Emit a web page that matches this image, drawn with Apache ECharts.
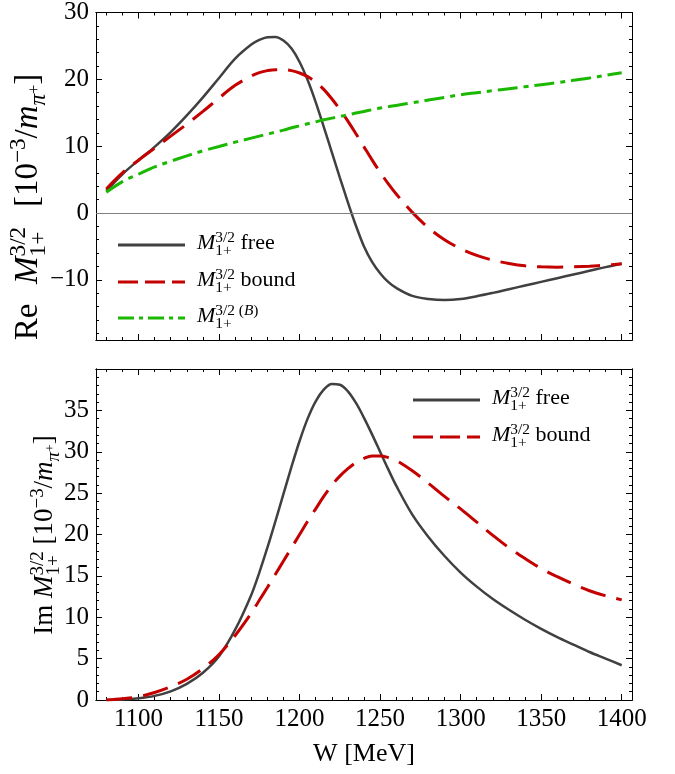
<!DOCTYPE html>
<html lang="en" style="height: 100%">
<head>
    <meta charset="utf-8">
</head>
<body style="height: 100%; margin: 0; overflow: hidden; background: #fff">
<div id="container" style="height: 774px; width: 675px"></div>

<script type="text/javascript" src="https://cdn.jsdelivr.net/npm/echarts@6/dist/echarts.min.js"></script>

<script type="text/javascript">
    // W [MeV] grid the curves were read on
    var W = [1080, 1090, 1100, 1110, 1120, 1130, 1140, 1150, 1160, 1170, 1175, 1180, 1185, 1190, 1195,
             1200, 1205, 1210, 1215, 1220, 1225, 1230, 1235, 1240, 1245, 1250, 1255, 1260, 1270, 1280,
             1290, 1300, 1310, 1320, 1330, 1340, 1350, 1360, 1370, 1380, 1390, 1400];

    // Re M1+ (3/2)
    var reFree = [3.3, 5.8, 7.9, 9.9, 12.1, 14.6, 17.3, 20.2, 23.1, 25.2, 25.9, 26.3, 26.35, 25.8, 24.6,
                  22.6, 19.9, 16.6, 12.9, 9.1, 5.3, 1.6, -1.9, -5.0, -7.3, -9.0, -10.3, -11.2, -12.4, -12.85,
                  -13.0, -12.85, -12.45, -11.95, -11.4, -10.85, -10.3, -9.75, -9.2, -8.65, -8.1, -7.6];
    var reBound = [3.6, 6.0, 7.9, 9.7, 11.5, 13.3, 15.2, 17.2, 19.1, 20.5, 21.0, 21.3, 21.45, 21.45, 21.3,
                   20.95, 20.4, 19.6, 18.5, 17.1, 15.5, 13.75, 11.85, 9.9, 7.95, 6.1, 4.4, 2.85, 0.1, -2.2,
                   -4.0, -5.35, -6.35, -7.05, -7.55, -7.9, -8.05, -8.1, -8.05, -7.95, -7.8, -7.6];
    var reBorn = [3.1, 4.7, 5.8, 6.9, 7.75, 8.55, 9.3, 9.95, 10.6, 11.2, 11.5, 11.8, 12.1, 12.4, 12.75,
                  13.05, 13.35, 13.65, 13.95, 14.2, 14.45, 14.7, 14.95, 15.2, 15.45, 15.7, 15.9, 16.1, 16.5, 16.9,
                  17.3, 17.7, 18.0, 18.3, 18.6, 18.9, 19.2, 19.5, 19.85, 20.2, 20.6, 21.0];

    // Im M1+ (3/2)
    var imFree = [0, 0.05, 0.2, 0.5, 1.05, 1.95, 3.3, 5.3, 8.5, 12.7, 15.4, 18.4, 21.6, 24.9, 28.2,
                  31.3, 34.0, 36.1, 37.5, 38.2, 38.1, 37.3, 35.9, 34.1, 32.1, 30.0, 27.9, 25.9, 22.4, 19.7,
                  17.4, 15.4, 13.7, 12.2, 10.9, 9.7, 8.6, 7.6, 6.7, 5.8, 5.0, 4.2];
    var imBound = [0, 0.15, 0.4, 0.9, 1.6, 2.5, 3.8, 5.5, 7.8, 10.5, 12.05, 13.6, 15.2, 16.8, 18.4,
                   20.0, 21.6, 23.1, 24.6, 25.95, 27.05, 27.95, 28.7, 29.2, 29.5, 29.5, 29.3, 28.95, 27.7, 26.2,
                   24.6, 23.1, 21.5, 19.9, 18.4, 17.1, 15.9, 14.9, 14.0, 13.2, 12.6, 12.1];

    // ticks
    var xMajor = [1100, 1150, 1200, 1250, 1300, 1350, 1400];
    var xMinor = [1080, 1090, 1110, 1120, 1130, 1140, 1160, 1170, 1180, 1190, 1210, 1220, 1230, 1240,
                  1260, 1270, 1280, 1290, 1310, 1320, 1330, 1340, 1360, 1370, 1380, 1390];
    var reMajor = [-10, 0, 10, 20, 30];
    var reMinor = [-18, -16, -14, -12, -8, -6, -4, -2, 2, 4, 6, 8, 12, 14, 16, 18, 22, 24, 26, 28];
    var imMajor = [0, 5, 10, 15, 20, 25, 30, 35];
    var imMinor = [1, 2, 3, 4, 6, 7, 8, 9, 11, 12, 13, 14, 16, 17, 18, 19, 21, 22, 23, 24,
                   26, 27, 28, 29, 31, 32, 33, 34, 36, 37, 38, 39];

    var FONT = '"Liberation Serif", "Times New Roman", serif';
    var C_FREE = '#404040', C_BOUND = '#c40000', C_BORN = '#1ab800';
    var X_MIN = 1073.6, X_MAX = 1406.4;

    var dom = document.getElementById('container');
    var myChart = echarts.init(dom, null, { renderer: 'canvas' });

    function axis(grid, pos, min, max, ticks, len, labels) {
      return {
        type: 'value', gridIndex: grid, position: pos, min: min, max: max,
        axisLine: { show: true, onZero: false, lineStyle: { color: '#000', width: 1 } },
        axisTick: { show: true, inside: true, length: len, customValues: ticks,
                    lineStyle: { color: '#000', width: 1 } },
        axisLabel: labels ? {
          show: true, customValues: labels, fontFamily: FONT, fontSize: 25, color: '#000', margin: 7,
          formatter: function (v) { return String(v).replace('-', '\u2212'); }
        } : { show: false },
        splitLine: { show: false }
      };
    }

    function curve(name, vals, grid, color, width, dash) {
      return {
        type: 'line', name: name, xAxisIndex: grid * 4, yAxisIndex: grid * 4,
        data: W.map(function (w, i) { return [w, vals[i]]; }),
        symbol: 'none', smooth: 0.35, silent: true,
        lineStyle: { color: color, width: width, type: dash || 'solid', cap: 'butt' }
      };
    }

    // little TeX-ish text builder for the M^{3/2}_{1+} labels
    var mctx = document.createElement('canvas').getContext('2d');
    function textW(t, it, sz) {
      mctx.font = (it ? 'italic ' : '') + sz + 'px ' + FONT;
      return mctx.measureText(t).width;
    }
    function mathText(tokens, size) {
      var x = 0, kids = [];
      function put(t, it, sz, dy, at) {
        kids.push({
          type: 'text', x: at, y: dy - 0.3 * sz,
          style: { text: t, fontFamily: FONT, fontSize: sz, fontStyle: it ? 'italic' : 'normal',
                   fill: '#000', align: 'left', verticalAlign: 'middle' }
        });
        return textW(t, it, sz);
      }
      tokens.forEach(function (k) {
        if (k.gap) { x += k.gap * size; return; }
        if (k.sup || k.sub) {
          var ss = size * 0.7, w1 = 0, w2 = 0;
          (k.sup || []).forEach(function (p) { w1 += put(p.t, p.i, ss, -0.36 * size, x + w1); });
          (k.sub || []).forEach(function (p) { w2 += put(p.t, p.i, ss, 0.24 * size, x + w2); });
          x += Math.max(w1, w2);
        } else {
          var sz = size * (k.s || 1);
          x += put(k.t, k.i, sz, (k.dy || 0) * size, x);
        }
      });
      return { kids: kids, width: x };
    }
    function shift(kids, dx) {
      kids.forEach(function (c) { c.x += dx; });
      return kids;
    }

    var MS = { sup: [{ t: '3/2' }], sub: [{ t: '1+' }] };
    function yTitle(prefix, cx, cy, size, pad) {
      var m = mathText([{ t: prefix }, { gap: 0.25 + pad }, { t: 'M', i: 1 }, MS, { gap: 0.25 + pad },
                        { t: '[10' }, { sup: [{ t: '\u22123' }] },
                        { t: '/' }, { t: 'm', i: 1 }, { sub: [{ t: '\u03c0', i: 1 }] },
                        { t: '+', s: 0.5, dy: 0.05 }, { t: ']' }], size);
      return { type: 'group', x: cx, y: cy, rotation: Math.PI / 2, children: shift(m.kids, -m.width / 2) };
    }

    function legendRow(x0, x1, y, color, dash, tokens) {
      var m = mathText(tokens, 22);
      return [
        { type: 'line', shape: { x1: x0, y1: y, x2: x1, y2: y },
          style: { stroke: color, lineWidth: 3, lineDash: dash || null } },
        { type: 'group', x: x1 + 12, y: y + 5, children: m.kids }
      ];
    }

    var graphics = [].concat(
      yTitle('Re', 38, 207, 33, 0.35),
      yTitle('Im', 53, 535, 27, 0),
      legendRow(118, 185, 245, C_FREE, null, [{ t: 'M', i: 1 }, MS, { t: ' free' }]),
      legendRow(118, 185, 282, C_BOUND, [20, 7], [{ t: 'M', i: 1 }, MS, { t: ' bound' }]),
      legendRow(118, 185, 318, C_BORN, [16, 5, 4, 5],
                [{ t: 'M', i: 1 }, { sup: [{ t: '3/2 (' }, { t: 'B', i: 1 }, { t: ')' }], sub: [{ t: '1+' }] }]),
      legendRow(413, 480, 400, C_FREE, null, [{ t: 'M', i: 1 }, MS, { t: ' free' }]),
      legendRow(413, 480, 437, C_BOUND, [20, 7], [{ t: 'M', i: 1 }, MS, { t: ' bound' }]),
      [{ type: 'text', x: 364, y: 762 - 0.3 * 26,
         style: { text: 'W [MeV]', fontFamily: FONT, fontSize: 26, fill: '#000',
                  align: 'center', verticalAlign: 'middle' } }]
    );

    var zeroLine = {
      silent: true, symbol: 'none', label: { show: false },
      lineStyle: { color: '#808080', width: 1, type: 'solid' },
      data: [{ yAxis: 0 }]
    };

    var top0 = curve('free', reFree, 0, C_FREE, 2.5);
    top0.markLine = zeroLine;

    var option = {
      animation: false,
      backgroundColor: '#fff',
      grid: [
        { left: 96, right: 43, top: 10, height: 330 },
        { left: 96, right: 43, top: 369, height: 331 }
      ],
      xAxis: [
        axis(0, 'bottom', X_MIN, X_MAX, xMajor, 6, null),
        axis(0, 'bottom', X_MIN, X_MAX, xMinor, 3, null),
        axis(0, 'top', X_MIN, X_MAX, xMajor, 6, null),
        axis(0, 'top', X_MIN, X_MAX, xMinor, 3, null),
        axis(1, 'bottom', X_MIN, X_MAX, xMajor, 6, xMajor),
        axis(1, 'bottom', X_MIN, X_MAX, xMinor, 3, null),
        axis(1, 'top', X_MIN, X_MAX, xMajor, 6, null),
        axis(1, 'top', X_MIN, X_MAX, xMinor, 3, null)
      ],
      yAxis: [
        axis(0, 'left', -19, 30, reMajor, 6, reMajor),
        axis(0, 'left', -19, 30, reMinor, 3, null),
        axis(0, 'right', -19, 30, reMajor, 6, null),
        axis(0, 'right', -19, 30, reMinor, 3, null),
        axis(1, 'left', 0, 40, imMajor, 6, imMajor),
        axis(1, 'left', 0, 40, imMinor, 3, null),
        axis(1, 'right', 0, 40, imMajor, 6, null),
        axis(1, 'right', 0, 40, imMinor, 3, null)
      ],
      graphic: graphics,
      series: [
        top0,
        curve('bound', reBound, 0, C_BOUND, 3, [26, 11]),
        curve('born', reBorn, 0, C_BORN, 3, [20, 6, 5, 6]),
        curve('free', imFree, 1, C_FREE, 2.5),
        curve('bound', imBound, 1, C_BOUND, 3, [26, 11])
      ]
    };

    myChart.setOption(option);
    window.addEventListener('resize', myChart.resize);
</script>
</body>
</html>
